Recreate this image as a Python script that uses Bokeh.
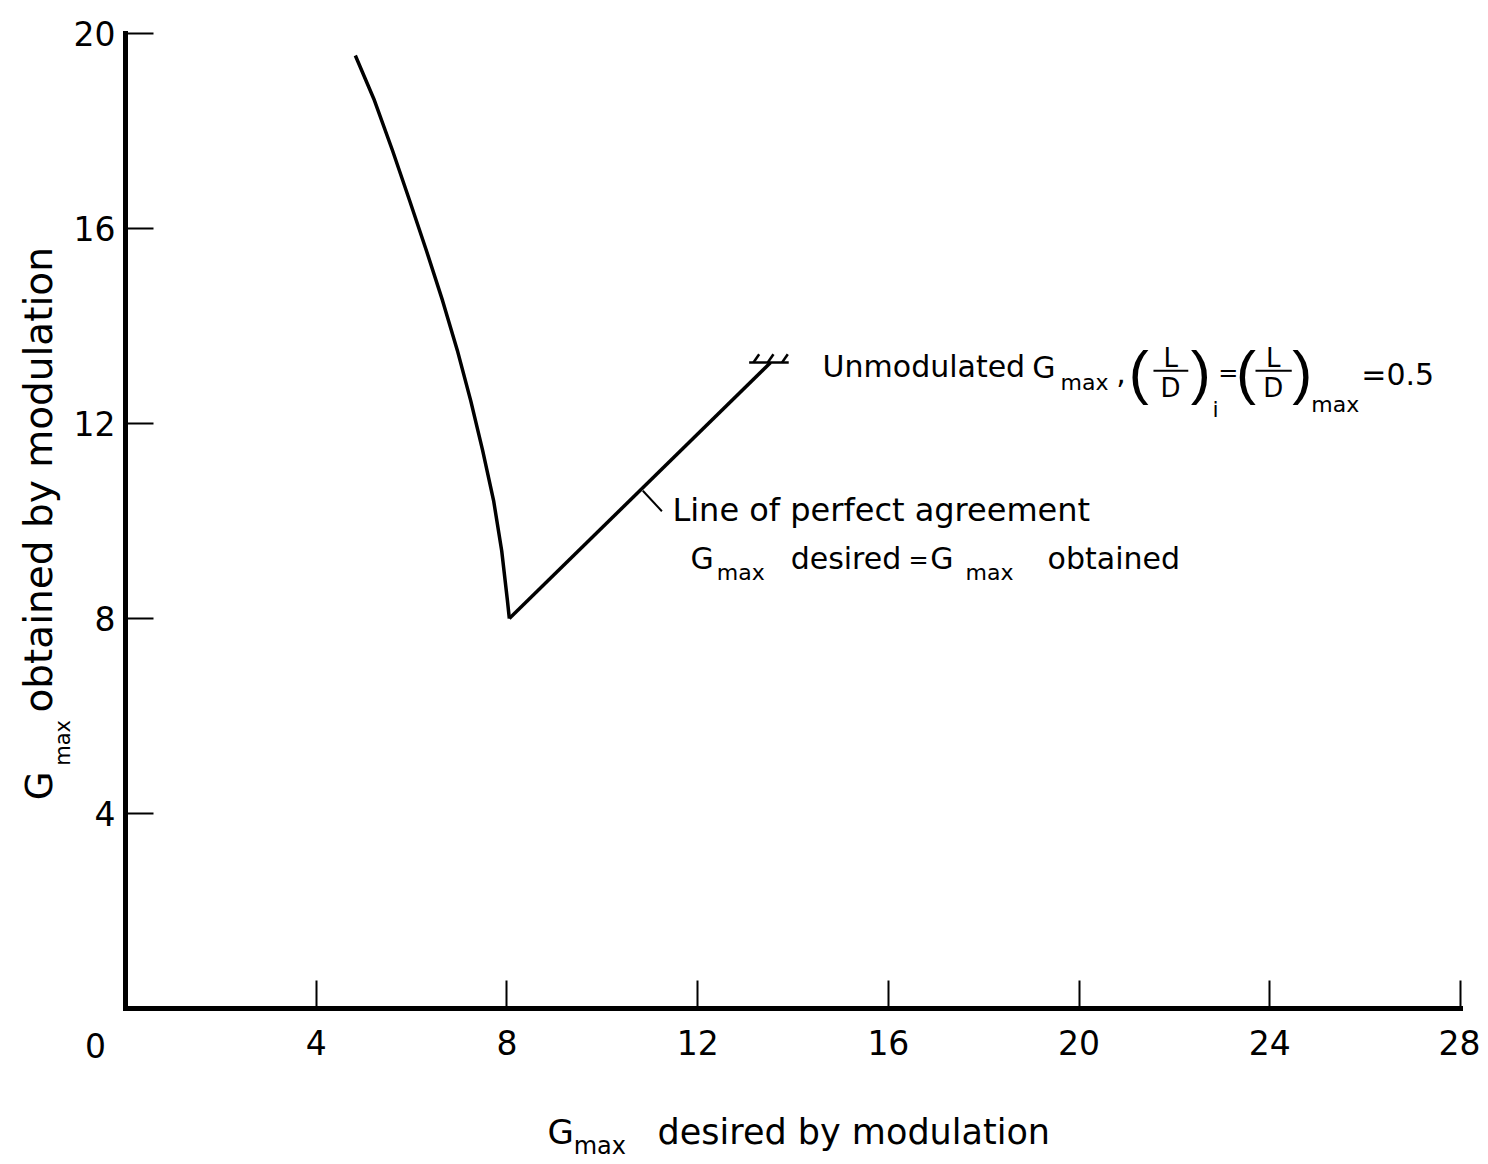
import math
from bokeh.plotting import figure
from bokeh.models import Range1d, FixedTicker, Label
from bokeh.embed import file_html
from bokeh.resources import INLINE

# ---- data ----
desired_by_mod = [4.82, 5.22, 5.60, 5.96, 6.31, 6.65, 6.96, 7.24, 7.49, 7.72, 7.89, 8.01, 8.05]
obtained_by_mod = [19.55, 18.63, 17.60, 16.57, 15.55, 14.52, 13.50, 12.47, 11.45, 10.42, 9.39, 8.37, 8.0]
agree_x = [8.05, 13.53]
agree_y = [8.0, 13.25]
x_ticks = [4, 8, 12, 16, 20, 24, 28]
y_ticks = [4, 8, 12, 16, 20]

FONT = "DejaVu Sans"
PAREN_FONT = "Liberation Sans"

W, H = 1480, 1160
XR = (-2.622, 28.419)
YR = (-3.118, 20.677)
PX_X = W / (XR[1] - XR[0])   # screen px per x unit
PX_Y = H / (YR[1] - YR[0])   # screen px per y unit

p = figure(width=W, height=H, x_range=Range1d(*XR), y_range=Range1d(*YR),
           output_backend="svg", toolbar_location=None, min_border=0)
p.grid.visible = False
p.outline_line_color = None
p.background_fill_color = "white"
p.border_fill_color = "white"

p.xaxis.fixed_location = 0
p.yaxis.fixed_location = 0
p.xaxis.bounds = (0, 28)
p.yaxis.bounds = (0, 20)
for ax in (p.xaxis[0], p.yaxis[0]):
    ax.axis_line_width = 5
    ax.axis_line_color = "black"
    ax.axis_line_cap = "square"
    ax.major_tick_in = 28
    ax.major_tick_out = 0
    ax.major_tick_line_width = 2
    ax.major_tick_line_color = "black"
    ax.minor_tick_line_color = None
    ax.major_label_text_font = FONT
    ax.major_label_text_font_size = "33px"
    ax.major_label_text_color = "black"
p.xaxis.ticker = FixedTicker(ticks=x_ticks)
p.yaxis.ticker = FixedTicker(ticks=y_ticks)
p.xaxis.major_label_standoff = 22
p.yaxis.major_label_standoff = 10

# curves
p.line(desired_by_mod, obtained_by_mod, line_width=3.5, line_color="black", line_join="round")
p.line(agree_x, agree_y, line_width=3.5, line_color="black")

# hatch marking the unmodulated limit at the end of the agreement line
ex, ey = agree_x[-1], agree_y[-1]
p.line([ex - 0.45, ex + 0.38], [ey, ey], line_width=2.5, line_color="black")
for dx in (-0.36, -0.06, 0.24):
    p.line([ex + dx, ex + dx + 0.12], [ey, ey + 0.17], line_width=2.5, line_color="black")

# leader to "Line of perfect agreement"
p.line([10.85, 11.25], [10.62, 10.2], line_width=2, line_color="black")


def lab(x, y, text, size, angle=0.0, align="left", baseline="alphabetic", font=FONT):
    # compensate the downward drift of alphabetic-baseline labels
    if baseline == "alphabetic":
        shift = 0.34 * size
        if angle:
            x -= shift / PX_X
        else:
            y += shift / PX_Y
    p.add_layout(Label(x=x, y=y, text=text, text_font=font, text_font_size=f"{size}px",
                       angle=angle, text_align=align, text_baseline=baseline,
                       text_color="black"))


# origin label
lab(-0.63, -0.76, "0", 33, align="center", baseline="middle")

# annotation: Unmodulated G_max,(L/D)_i=(L/D)_max=0.5
lab(14.62, 12.96, "Unmodulated", 30)
lab(19.02, 12.94, "G", 30)
lab(19.61, 12.68, "max", 22)
lab(20.78, 12.84, ",", 30)
lab(21.25, 13.05, "(", 60, align="center", baseline="middle", font=PAREN_FONT)
lab(21.92, 13.17, "L", 26, align="center")
p.line([21.56, 22.29], [13.08, 13.08], line_width=2, line_color="black")
lab(21.92, 12.55, "D", 26, align="center")
lab(22.55, 13.05, ")", 60, align="center", baseline="middle", font=PAREN_FONT)
lab(22.80, 12.14, "i", 22)
lab(22.92, 13.03, "=", 24, baseline="middle")
lab(23.50, 13.05, "(", 60, align="center", baseline="middle", font=PAREN_FONT)
lab(24.07, 13.17, "L", 26, align="center")
p.line([23.70, 24.46], [13.08, 13.08], line_width=2, line_color="black")
lab(24.07, 12.55, "D", 26, align="center")
lab(24.68, 13.05, ")", 60, align="center", baseline="middle", font=PAREN_FONT)
lab(24.87, 12.23, "max", 22)
lab(25.92, 12.80, "=0.5", 30)

# annotation: line of perfect agreement
lab(11.47, 10.01, "Line of perfect agreement", 32)
lab(11.85, 9.03, "G", 30)
lab(12.40, 8.78, "max", 22)
lab(13.95, 9.03, "desired", 30)
lab(16.42, 9.03, "=", 24)
lab(16.88, 9.03, "G", 30)
lab(17.62, 8.78, "max", 22)
lab(19.34, 9.03, "obtained", 30)

# x-axis title
lab(8.85, -2.77, "G", 34)
lab(9.40, -2.98, "max", 24)
lab(11.16, -2.77, "desired by modulation", 35)

# y-axis title (rotated)
up = math.pi / 2
lab(-1.55, 4.27, "G", 37, angle=up)
lab(-1.17, 4.98, "max", 21, angle=up)
lab(-1.55, 6.07, "obtained by modulation", 39, angle=up)

open("out.html", "w").write(file_html(p, INLINE))
